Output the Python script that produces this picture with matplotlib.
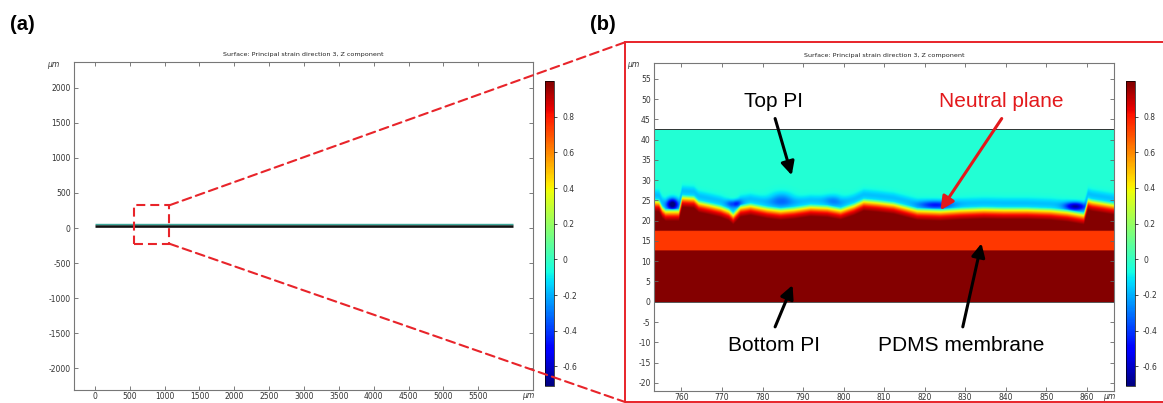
import numpy as np
import matplotlib
matplotlib.use("Agg")
import matplotlib.pyplot as plt
from matplotlib.patches import Rectangle, ConnectionPatch
from matplotlib import cm, colors

# layer stack of the device, in um (bottom PI, PDMS, top PI)
layer_bounds = [0.0, 12.7, 17.5, 42.5]
layer_values = [0.99, 0.74]
top_pi_value = -0.04
bar_x = [0, 6000]

# neutral plane (yellow transition line)
iface_x = [753.1, 754.3, 755.1, 755.9, 759.2, 760.0, 762.9, 764.1, 766.5, 769.5,
           771.5, 772.6, 774.4, 776.9, 781.0, 784.3, 787.6, 791.7, 795.8, 799.1,
           802.4, 804.8, 808.1, 812.2, 818.0, 823.7, 828.7, 834.4, 839.3, 845.1,
           850.9, 855.0, 859.1, 860.1, 861.1, 866.7]
iface_y = [24.5, 24.4, 22.8, 22.1, 22.1, 25.5, 25.3, 24.2, 23.7, 23.0,
           22.2, 21.2, 23.1, 23.5, 22.7, 22.3, 22.6, 23.2, 23.0, 22.4,
           23.5, 24.6, 24.3, 23.8, 22.3, 22.1, 22.4, 22.6, 22.5, 22.5,
           22.3, 21.9, 21.2, 24.8, 24.5, 23.6]

# strain profile across the neutral plane (distance above it -> value)
cross_d = [-2.2, -1.0, -0.5, 0.0, 0.4, 0.8]
cross_v = [0.99, 0.80, 0.60, 0.40, 0.15, -0.02]

# compressive (blue) pockets sitting just above the neutral plane
pocket_x = [757.6, 773.0, 784.5, 797.5, 822.5, 857.0]
pocket_y = [24.0, 24.2, 25.3, 25.0, 23.8, 23.5]
pocket_amp = [0.65, 0.30, 0.20, 0.12, 0.30, 0.50]
pocket_wx = [1.3, 1.8, 2.8, 2.2, 4.0, 2.5]
pocket_wy = [1.4, 0.9, 1.7, 1.5, 1.0, 1.0]
band_amp = 0.13

# zoom box drawn on panel (a)
zoom_x = [555, 1070]
zoom_y = [-225, 325]

xticks_a = np.arange(0, 5501, 500)
yticks_a = np.arange(-2000, 2001, 500)
xticks_b = np.arange(760, 861, 10)
yticks_b = np.arange(-20, 56, 5)
cbar_ticks = [-0.6, -0.4, -0.2, 0, 0.2, 0.4, 0.6, 0.8]
vmin, vmax = -0.71, 1.0

labels = ["Top PI", "Neutral plane", "Bottom PI", "PDMS membrane"]
label_xy = [(782.8, 49.3), (838.8, 49.3), (782.9, -10.7), (829.0, -10.7)]
arrow_tail = [(783.1, 45.2), (839.0, 45.2), (783.1, -6.2), (829.4, -6.2)]
arrow_head = [(787.2, 31.2), (823.9, 22.6), (787.4, 4.1), (834.0, 14.4)]
label_colors = ["black", "#e3191c", "black", "black"]

title = "Surface: Principal strain direction 3, Z component"
W, H = 1163, 403
TICK = "#333333"
RED = "#e8242a"


def fig_rect(l, t, r, b):
    return [l / W, 1 - b / H, (r - l) / W, (b - t) / H]


def style_axes(ax):
    for s in ax.spines.values():
        s.set_color("#777777")
        s.set_linewidth(0.8)
    ax.tick_params(direction="in", length=3, width=0.6, color="#666666",
                   labelsize=5.5, labelcolor=TICK, top=True, right=True, pad=2)
    ax.text(-0.044, 0.994, "\u03bcm", transform=ax.transAxes, fontsize=5.5,
            color=TICK, ha="center", va="center", style="italic")
    ax.text(0.99, -0.018, "\u03bcm", transform=ax.transAxes, fontsize=5.5,
            color=TICK, ha="center", va="center", style="italic")
    ax.text(0.5, 1.024, title, transform=ax.transAxes, fontsize=4.6,
            color="#222222", ha="center", va="center")


def add_cbar(fig, rect):
    cax = fig.add_axes(rect)
    sm = cm.ScalarMappable(norm=colors.Normalize(vmin, vmax), cmap="jet")
    cb = fig.colorbar(sm, cax=cax, ticks=cbar_ticks)
    cb.ax.set_yticklabels([("%g" % t) for t in cbar_ticks])
    cb.ax.tick_params(labelsize=5.5, labelcolor=TICK, length=2, width=0.5, pad=4)
    cb.outline.set_linewidth(0.5)


plt.rcParams["font.family"] = ["DejaVu Sans"]
plt.rcParams["axes.unicode_minus"] = False
fig = plt.figure(figsize=(W / 100, H / 100), dpi=100)

# ---- panel (a): whole beam
ax_a = fig.add_axes(fig_rect(73.5, 62.3, 533, 389.5))
ax_a.plot(bar_x, [layer_bounds[1] * 2, layer_bounds[1] * 2], color="#111111",
          lw=1.9, solid_capstyle="butt")
ax_a.plot(bar_x, [layer_bounds[3] + 15, layer_bounds[3] + 15], color="#3fa89a",
          lw=1.0, solid_capstyle="butt")
ax_a.set_xlim(-307, 6285)
ax_a.set_ylim(-2307, 2367)
ax_a.set_xticks(xticks_a)
ax_a.set_yticks(yticks_a)
style_axes(ax_a)
ax_a.add_patch(Rectangle((zoom_x[0], zoom_y[0]), zoom_x[1] - zoom_x[0],
                         zoom_y[1] - zoom_y[0], fill=False, ec=RED, lw=1.5,
                         ls=(0, (4.3, 2.4)), zorder=5))
add_cbar(fig, fig_rect(545.4, 81, 553.8, 386))

# ---- panel (b): zoom on the layer stack
ax_b = fig.add_axes(fig_rect(653.5, 63, 1114, 390.5))
xlim_b = (753.1, 866.7)
xs = np.linspace(xlim_b[0], xlim_b[1], 1100)
ys = np.linspace(layer_bounds[0], layer_bounds[3], 600)
X, Y = np.meshgrid(xs, ys)
surf = np.interp(xs, iface_x, iface_y)
D = Y - surf[None, :]
field = np.interp(D, cross_d, cross_v)
field = np.where(D > cross_d[-1], top_pi_value, field)
band = band_amp * np.exp(-((D - 1.8) / 1.3) ** 2)
for px_, py_, a, wx, wy in zip(pocket_x, pocket_y, pocket_amp, pocket_wx, pocket_wy):
    band = band + a * np.exp(-((X - px_) / wx) ** 2 - ((Y - py_) / wy) ** 2)
field = field - band * np.clip((D - 0.3) / 0.6, 0, 1)
field[Y < layer_bounds[2]] = layer_values[1]
field[Y < layer_bounds[1]] = layer_values[0]
ax_b.imshow(field, extent=[xs[0], xs[-1], layer_bounds[0], layer_bounds[3]],
            origin="lower", cmap="jet", vmin=vmin, vmax=vmax, aspect="auto",
            interpolation="bilinear")
ax_b.plot(xlim_b, [layer_bounds[3]] * 2, color="#333333", lw=0.7)
ax_b.plot(xlim_b, [layer_bounds[0]] * 2, color="#555555", lw=0.7)
ax_b.set_xlim(*xlim_b)
ax_b.set_ylim(-21.9, 58.9)
ax_b.set_xticks(xticks_b)
ax_b.set_yticks(yticks_b)
style_axes(ax_b)
add_cbar(fig, fig_rect(1125.7, 81, 1134.7, 385.8))

for txt, xy, tail, head, c in zip(labels, label_xy, arrow_tail, arrow_head, label_colors):
    ax_b.text(xy[0], xy[1], txt, color=c, fontsize=15, ha="center", va="center",
              family="Liberation Sans")
    ax_b.annotate("", xy=head, xytext=tail,
                  arrowprops=dict(arrowstyle="-|>", color=c, lw=2.2,
                                  mutation_scale=20, shrinkA=0, shrinkB=0))

# ---- zoom frame and connector lines
fig.patches.append(Rectangle((625 / W, 1 - 402 / H), 1.0, (402 - 42.3) / H,
                             transform=fig.transFigure, fill=False, ec=RED,
                             lw=1.4, zorder=5))
for cy, fy in [(zoom_y[1], 42.3), (zoom_y[0], 402)]:
    con = ConnectionPatch(xyA=(zoom_x[1], cy), coordsA=ax_a.transData,
                          xyB=(625 / W, 1 - fy / H), coordsB=fig.transFigure,
                          color=RED, lw=1.5, ls=(0, (4.3, 2.4)), zorder=5)
    fig.add_artist(con)

fig.text(10 / W, 1 - 25 / H, "(a)", fontsize=14.5, fontweight="bold",
         family="Liberation Sans", va="center", ha="left")
fig.text(590 / W, 1 - 25 / H, "(b)", fontsize=14.5, fontweight="bold",
         family="Liberation Sans", va="center", ha="left")

fig.savefig("out.png", dpi=100)
